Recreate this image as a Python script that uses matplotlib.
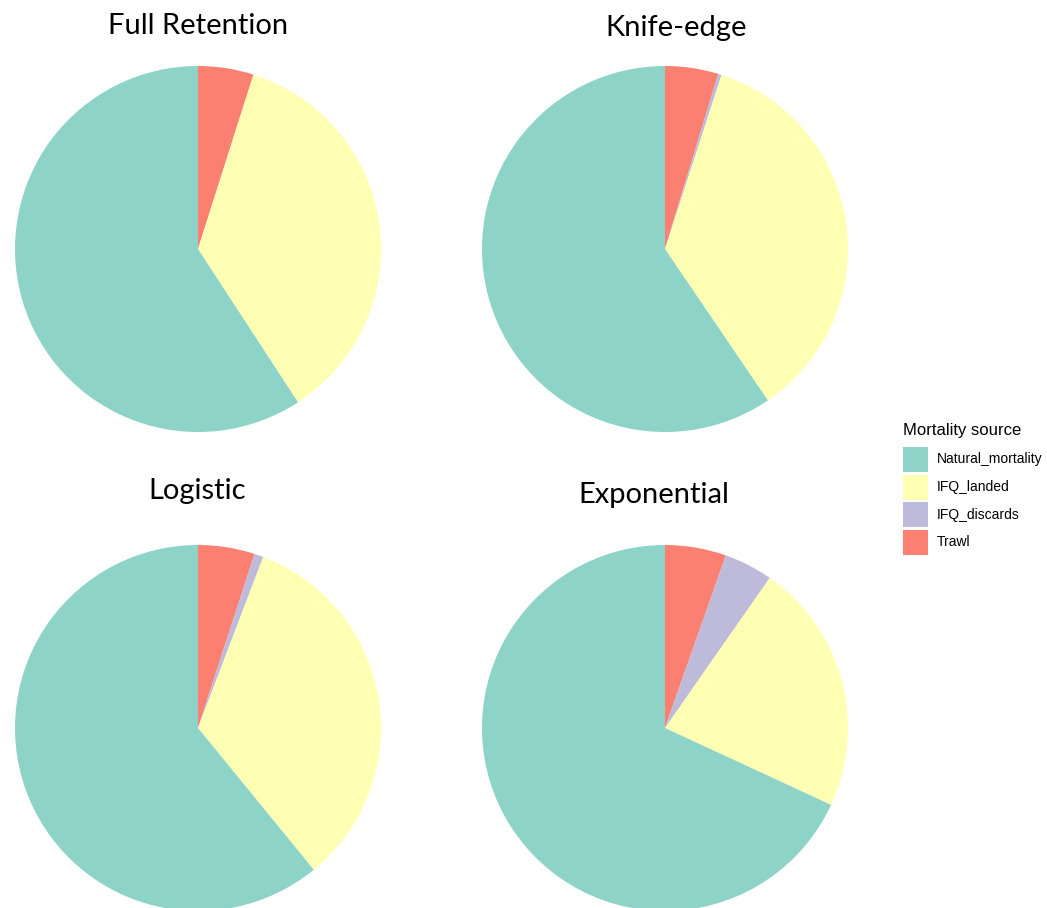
import matplotlib
matplotlib.use("Agg")
import matplotlib.pyplot as plt
from matplotlib.patches import Rectangle

# mortality shares (%) per selectivity scenario, clockwise from 12 o'clock
sources = ["Trawl", "IFQ_discards", "IFQ_landed", "Natural_mortality"]
full_retention = [4.9, 0.0, 35.9, 59.2]
knife_edge = [4.7, 0.3, 35.5, 59.5]
logistic = [5.0, 0.8, 33.3, 60.9]
exponential = [5.4, 4.3, 22.2, 68.1]

titles = ["Full Retention", "Knife-edge", "Logistic", "Exponential"]
colors = {"Natural_mortality": "#8DD3C7", "IFQ_landed": "#FFFFB3",
          "IFQ_discards": "#BEBADA", "Trawl": "#FB8072"}
legend_order = ["Natural_mortality", "IFQ_landed", "IFQ_discards", "Trawl"]

W, H = 1047, 908
fig = plt.figure(figsize=(W / 100, H / 100), dpi=100)

# pie centres / title positions in pixels
centres = [(198, 249), (665, 249), (198, 728), (665, 728)]
title_pos = [(198, 26), (676, 28), (197, 491), (654, 495)]
r = 183
data = [full_retention, knife_edge, logistic, exponential]

for vals, (cx, cy), title, (tx, ty) in zip(data, centres, titles, title_pos):
    ax = fig.add_axes([(cx - r) / W, 1 - (cy + r) / H, 2 * r / W, 2 * r / H])
    ax.pie(vals, colors=[colors[s] for s in sources], startangle=90,
           counterclock=False, radius=1, wedgeprops=dict(linewidth=0))
    ax.set_xlim(-1, 1)
    ax.set_ylim(-1, 1)
    ax.set_aspect("equal")
    ax.axis("off")
    fig.text(tx / W, 1 - ty / H, title, ha="center", va="center",
             fontsize=21, family="Lato")

# legend drawn by hand so the keys match the ggplot look (pixel layout)
lx, ly = 903, 431
key, step, top = 25, 27.5, 447
fig.text(lx / W, 1 - ly / H, "Mortality source", ha="left", va="center",
         fontsize=12, family="Liberation Sans")
for i, name in enumerate(legend_order):
    y0 = top + i * step
    fig.add_artist(Rectangle((lx / W, 1 - (y0 + key) / H), key / W, key / H,
                             transform=fig.transFigure, facecolor=colors[name],
                             edgecolor="none"))
    fig.text(937 / W, 1 - (y0 + key / 2) / H, name, ha="left", va="center",
             fontsize=10, family="Liberation Sans")

fig.savefig("out.png", dpi=100)
